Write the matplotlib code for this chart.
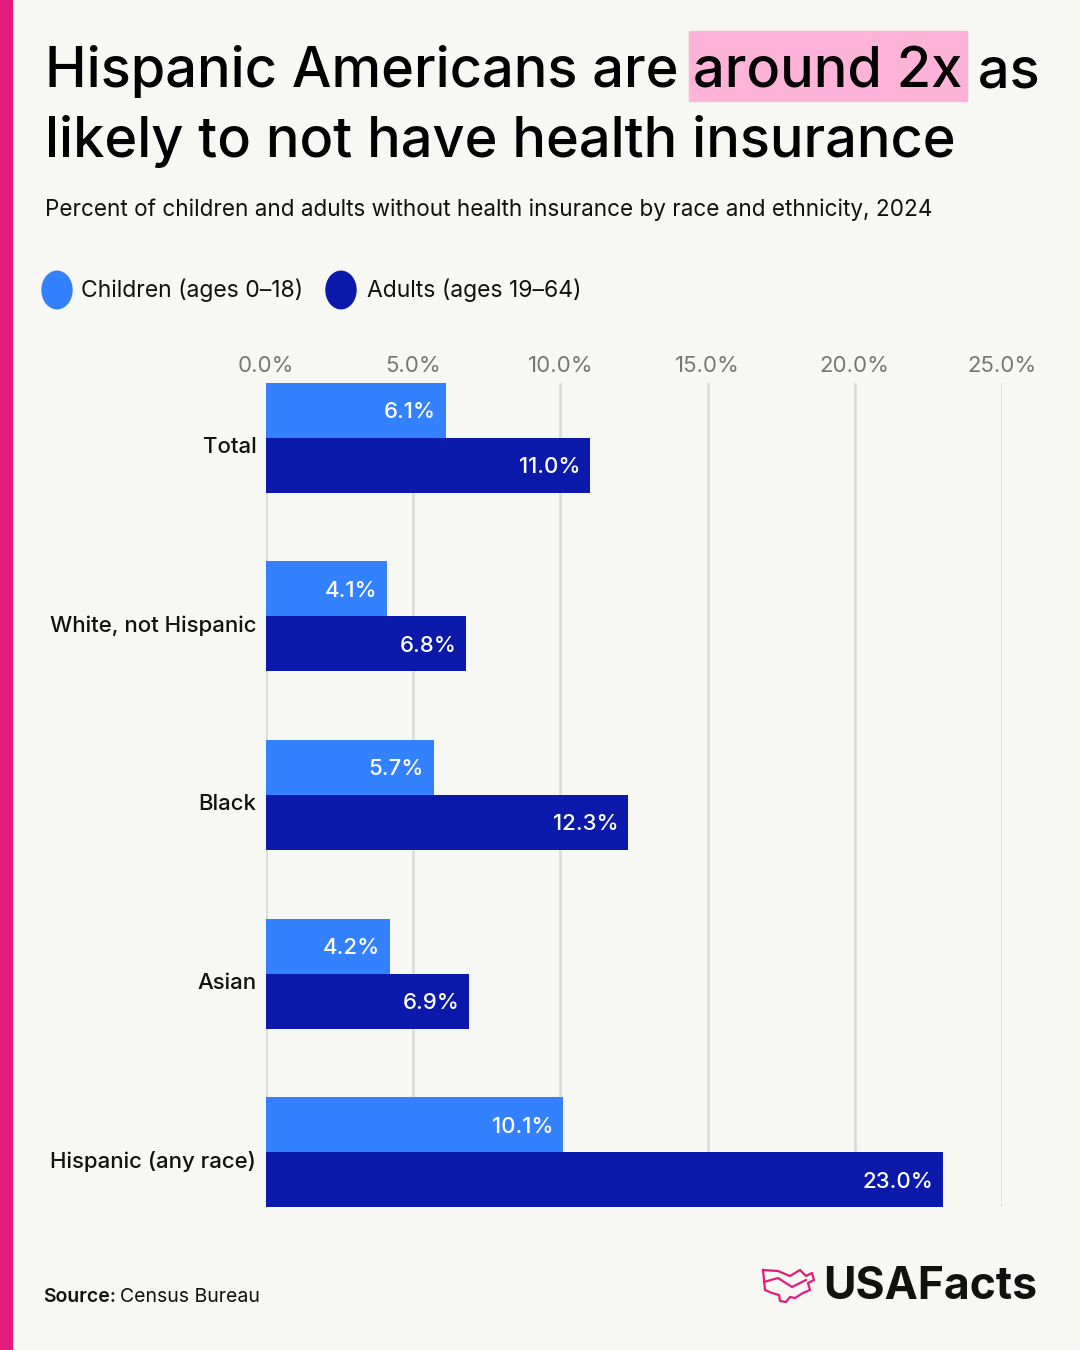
import matplotlib
matplotlib.use("Agg")
import matplotlib.pyplot as plt
import matplotlib.transforms as mtrans
from matplotlib.patches import Rectangle, Circle
import numpy as np

categories = ["Total", "White, not Hispanic", "Black", "Asian", "Hispanic (any race)"]
children = [6.1, 4.1, 5.7, 4.2, 10.1]
adults = [11.0, 6.8, 12.3, 6.9, 23.0]
xticks = [0, 5, 10, 15, 20, 25]
series_labels = ["Children (ages 0\u201318)", "Adults (ages 19\u201364)"]

BG = "#F7F7F3"
C_CHILD = "#3381FF"
C_ADULT = "#0B1AAB"
PINK = "#E31C79"
HL = "#FFB3D9"
FONT = "Inter"

W, H = 1080, 1350
fig = plt.figure(figsize=(W / 100, H / 100), dpi=100, facecolor=BG)
renderer = fig.canvas.get_renderer()


def fx(px):
    return px / W


def fy(py):
    return 1 - py / H


def fit_text(x, y, s, target_w, size0=20, **kw):
    t = fig.text(fx(x), fy(y), s, fontsize=size0, family=FONT, **kw)
    w = t.get_window_extent(renderer).width
    t.set_fontsize(size0 * target_w / w)
    return t


# left accent strip
fig.patches.append(Rectangle((0, 0), fx(12), 1, transform=fig.transFigure,
                             color=PINK, zorder=5))

# title line 1 in pieces with highlight
x0 = 45
parts = ["Hispanic Americans are ", "around 2x", " as"]
probe = fig.text(0, 0, "".join(parts), fontsize=40, family=FONT, weight="medium")
wfull = probe.get_window_extent(renderer).width
probe.remove()
tsize = 40 * 995 / wfull
xcur = x0
for i, p in enumerate(parts):
    t = fig.text(fx(xcur), fy(87), p, fontsize=tsize, family=FONT, weight="medium",
                 va="baseline", ha="left", zorder=10)
    bb = t.get_window_extent(renderer)
    if i == 1:
        fig.patches.append(Rectangle((fx(bb.x0 - 4), fy(101)), fx(bb.width + 8),
                                     fy(31) - fy(101), transform=fig.transFigure,
                                     color=HL, zorder=2))
    tt = fig.text(0, 0, p + "|", fontsize=tsize, family=FONT, weight="medium")
    tb = fig.text(0, 0, "|", fontsize=tsize, family=FONT, weight="medium")
    adv = tt.get_window_extent(renderer).width - tb.get_window_extent(renderer).width
    tt.remove(); tb.remove()
    xcur += adv

fig.text(fx(x0), fy(157), "likely to not have health insurance", fontsize=tsize,
         family=FONT, weight="medium", va="baseline", ha="left")

# subtitle
fit_text(45, 210, "Percent of children and adults without health insurance by race and ethnicity, 2024",
         886, va="center", ha="left", color="#111111")

# legend
for cx, col in [(57, C_CHILD), (341, C_ADULT)]:
    fig.patches.append(Circle((fx(cx), fy(290)), 15 / W, transform=fig.transFigure,
                              color=col))
fig.text(fx(81), fy(290), series_labels[0], fontsize=16.5, family=FONT, va="center",
         ha="left", color="#111111")
fig.text(fx(367), fy(290), series_labels[1], fontsize=16.5, family=FONT, va="center",
         ha="left", color="#111111")

# axes
ax_left, ax_right, ax_top, ax_bot = 266, 1002, 383, 1207
ax = fig.add_axes([fx(ax_left), fy(ax_bot), fx(ax_right - ax_left), (ax_bot - ax_top) / H])
ax.set_facecolor("none")
for s in ax.spines.values():
    s.set_visible(False)

y = np.arange(len(categories))
bh = 55 / 178.7
ax.barh(y - bh / 2, children, height=bh, color=C_CHILD, zorder=3)
ax.barh(y + bh / 2, adults, height=bh, color=C_ADULT, zorder=3)
ax.set_xlim(0, 25)
ax.set_ylim(4 + 54.5 / 178.7, -54.5 / 178.7)
ax.set_xticks(xticks)
ax.set_xticklabels([f"{v:.1f}%" for v in xticks], family=FONT, fontsize=16, color="#777777")
ax.xaxis.tick_top()
ax.tick_params(axis="x", length=0, pad=5)
ax.grid(axis="x", color="#DCDCD7", linewidth=2, zorder=0)
ax.set_yticks(y)
ax.set_yticklabels(categories, family=FONT, fontsize=16, color="#111111", weight="medium")
ax.tick_params(axis="y", length=0, pad=7)
shift = mtrans.ScaledTranslation(0, -7 / 100, fig.dpi_scale_trans)
for lab in ax.get_yticklabels():
    lab.set_transform(lab.get_transform() + shift)

for i in range(len(categories)):
    ax.text(children[i] - 0.33, y[i] - bh / 2 + 0.01, f"{children[i]:.1f}%", ha="right", va="center",
            color="white", fontsize=16, family=FONT, weight="medium", zorder=4)
    ax.text(adults[i] - 0.33, y[i] + bh / 2 + 0.01, f"{adults[i]:.1f}%", ha="right", va="center",
            color="white", fontsize=16, family=FONT, weight="medium", zorder=4)

# source
t1 = fig.text(fx(43), fy(1297), "Source:", fontsize=14, family=FONT, weight="semibold",
              va="center", ha="left", color="#111111")
bb = t1.get_window_extent(renderer)
fig.text(fx(bb.x1 + 4), fy(1297), "Census Bureau", fontsize=14, family=FONT,
         va="center", ha="left", color="#111111")

# logo
fit_text(823, 1287, "USAFacts", 214, size0=30, weight="bold", va="center", ha="left",
         color="#111111")
mx = np.array([763, 778, 790, 800, 806, 812, 814, 808, 810, 803, 795, 790, 786, 780, 779, 772, 765, 764, 763])
my = np.array([1270, 1271, 1276, 1270, 1276, 1273, 1280, 1283, 1290, 1293, 1298, 1297, 1302, 1301, 1295, 1293, 1290, 1280, 1270])
fig.lines.append(plt.Line2D(fx(mx), fy(my), transform=fig.transFigure, color=PINK, lw=1.6))
fig.lines.append(plt.Line2D(fx(np.array([764, 778, 792, 806])), fy(np.array([1282, 1278, 1287, 1280])),
                            transform=fig.transFigure, color=PINK, lw=1.6))

fig.savefig("out.png", dpi=100, facecolor=BG)
